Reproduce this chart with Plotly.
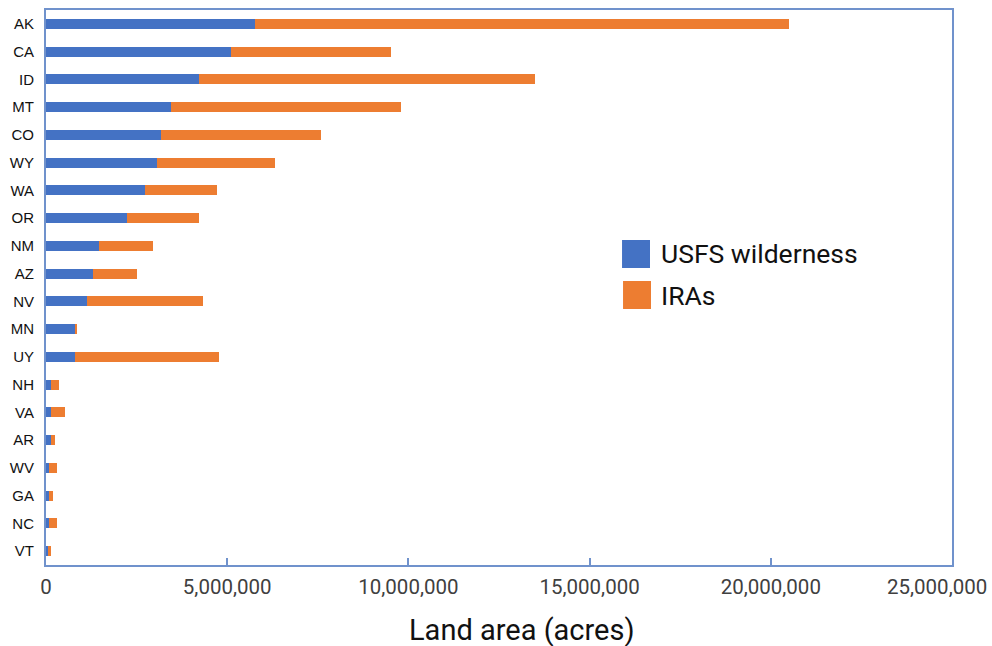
import plotly.graph_objects as go

states = ["AK", "CA", "ID", "MT", "CO", "WY", "WA", "OR", "NM", "AZ",
          "NV", "MN", "UY", "NH", "VA", "AR", "WV", "GA", "NC", "VT"]
wilderness = [5770000, 5110000, 4230000, 3450000, 3180000, 3060000, 2740000, 2240000, 1470000, 1300000,
              1130000, 810000, 800000, 130000, 140000, 130000, 80000, 70000, 80000, 60000]
iras = [14730000, 4410000, 9270000, 6340000, 4410000, 3260000, 1980000, 1980000, 1480000, 1210000,
        3200000, 50000, 3970000, 230000, 380000, 110000, 220000, 120000, 220000, 70000]
x_ticks = [0, 5000000, 10000000, 15000000, 20000000, 25000000]
x_tick_labels = ["0", "5,000,000", "10,000,000", "15,000,000", "20,000,000", "25,000,000"]

BLUE = "#4472C4"
ORANGE = "#ED7D31"
AXIS = "#7092CC"
TICKFONT = dict(family="Roboto", size=20.5, color="#404040")

fig = go.Figure()
fig.add_trace(go.Bar(y=states, x=wilderness, orientation="h", name="USFS wilderness",
                     marker=dict(color=BLUE, line=dict(width=0)), width=0.36))
fig.add_trace(go.Bar(y=states, x=iras, orientation="h", name="IRAs",
                     marker=dict(color=ORANGE, line=dict(width=0)), width=0.36))

# last tick label is drawn shifted left (as in the original) via an annotation
shown_ticktext = x_tick_labels[:-1] + [""]

fig.update_layout(
    barmode="stack",
    width=992, height=646,
    margin=dict(l=46, r=40, t=10, b=81),
    plot_bgcolor="white", paper_bgcolor="white",
    showlegend=False,
    xaxis=dict(
        range=[0, 25000000], tickvals=x_ticks, ticktext=shown_ticktext,
        showgrid=False, zeroline=False, automargin=False,
        showline=True, linecolor=AXIS, linewidth=2, mirror=True,
        ticks="inside", ticklen=7, tickcolor=AXIS, tickwidth=2,
        tickfont=TICKFONT, ticklabelstandoff=2,
    ),
    yaxis=dict(
        categoryorder="array", categoryarray=states, autorange="reversed",
        showgrid=False, zeroline=False, automargin=False,
        showline=True, linecolor=AXIS, linewidth=2, mirror=True,
        ticks="", ticklabelstandoff=7,
        tickfont=dict(family="Liberation Sans", size=15, color="#111111"),
    ),
)

fig.add_annotation(xref="paper", yref="paper", x=1.0408, y=-0.039, text=x_tick_labels[-1],
                   showarrow=False, xanchor="right", yanchor="middle", font=TICKFONT)

# axis title
fig.add_annotation(xref="paper", yref="paper", x=0.5254, y=-0.1171, text="Land area (acres)",
                   showarrow=False, xanchor="center", yanchor="middle",
                   font=dict(family="Roboto", size=29, color="#111111"))

# custom legend (large swatches)
fig.add_shape(type="rect", xref="paper", yref="paper", x0=0.6358, x1=0.6667, y0=0.5351, y1=0.5856,
              fillcolor=BLUE, line=dict(width=0))
fig.add_shape(type="rect", xref="paper", yref="paper", x0=0.6369, x1=0.6678, y0=0.4613, y1=0.5117,
              fillcolor=ORANGE, line=dict(width=0))
fig.add_annotation(xref="paper", yref="paper", x=0.6765, y=0.5604, text="USFS wilderness",
                   showarrow=False, xanchor="left", yanchor="middle",
                   font=dict(family="Roboto", size=26.5, color="#111111"))
fig.add_annotation(xref="paper", yref="paper", x=0.6765, y=0.4847, text="IRAs",
                   showarrow=False, xanchor="left", yanchor="middle",
                   font=dict(family="Roboto", size=26.5, color="#111111"))

fig.write_html("out.html", config={"displayModeBar": False},
               post_script="document.body.style.margin='0';")
